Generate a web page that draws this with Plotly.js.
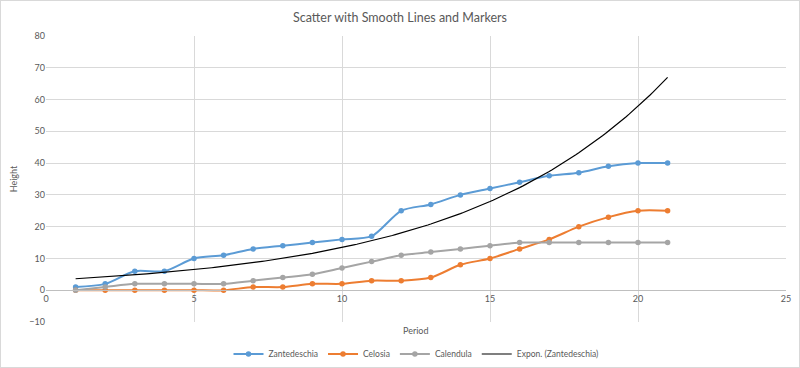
<!DOCTYPE html>
<html>
<head>
<meta charset="utf-8">
<script src="https://cdn.plot.ly/plotly-3.0.1.min.js"></script>
<style>
html,body{margin:0;padding:0;background:#fff;}
#wrap{position:relative;width:800px;height:368px;}
#chart{width:800px;height:368px;}
#frame{position:absolute;left:0;top:0;width:798px;height:366px;border:1px solid #d9d9d9;pointer-events:none;}
</style>
</head>
<body>
<div id="wrap"><div id="chart"></div><div id="frame"></div></div>
<script>
const periods = [1,2,3,4,5,6,7,8,9,10,11,12,13,14,15,16,17,18,19,20,21];
const zantedeschia = [1,2,6,6,10,11,13,14,15,16,17,25,27,30,32,34,36,37,39,40,40];
const celosia = [0,0,0,0,0,0,1,1,2,2,3,3,4,8,10,13,16,20,23,25,25];
const calendula = [0,1,2,2,2,2,3,4,5,7,9,11,12,13,14,15,15,15,15,15,15];
const seriesNames = ['Zantedeschia','Celosia','Calendula','Expon. (Zantedeschia)'];
const seriesColors = ['#5B9BD5','#ED7D31','#A5A5A5','#000000'];

// Exponential trendline (least squares on ln y), as Excel computes it
function expFit(xs, ys){
  const n = xs.length;
  const ly = ys.map(v => Math.log(v));
  const mx = xs.reduce((a,b)=>a+b,0)/n;
  const my = ly.reduce((a,b)=>a+b,0)/n;
  let sxy=0, sxx=0;
  for(let i=0;i<n;i++){ sxy += (xs[i]-mx)*(ly[i]-my); sxx += (xs[i]-mx)*(xs[i]-mx); }
  const b = sxy/sxx;
  const a = Math.exp(my - b*mx);
  return {a, b};
}
const fit = expFit(periods, zantedeschia);
const trendX = [], trendY = [];
const x0 = periods[0], x1 = periods[periods.length-1];
for(let i=0;i<=200;i++){
  const x = x0 + (x1-x0)*i/200;
  trendX.push(x); trendY.push(fit.a*Math.exp(fit.b*x));
}

const font = 'Lato, "Open Sans", sans-serif';
const mk = (y, i) => ({
  x: periods, y: y, name: seriesNames[i], type: 'scatter', mode: 'lines+markers',
  line: {color: seriesColors[i], width: 2, shape: 'spline', smoothing: 0.8},
  marker: {color: seriesColors[i], size: 5.5}
});
const traces = [
  mk(zantedeschia,0), mk(celosia,1), mk(calendula,2),
  {x: trendX, y: trendY, name: seriesNames[3], type: 'scatter', mode: 'lines',
   line: {color: '#000', width: 1.2}}
];

const layout = {
  width: 800, height: 368,
  margin: {l: 46, r: 14, t: 36, b: 46},
  paper_bgcolor: '#fff', plot_bgcolor: '#fff',
  font: {family: font, size: 9, color: '#595959'},
  title: {text: 'Scatter with Smooth Lines and Markers', font: {family: font, size: 12.5, color: '#595959'},
          x: 0.5, xanchor: 'center', y: 0.953, yanchor: 'middle', yref: 'container'},
  xaxis: {range: [0,25], dtick: 5, tick0: 0, showgrid: true, gridcolor: '#d9d9d9', gridwidth: 1,
          zeroline: false, showline: true, linecolor: '#bfbfbf', linewidth: 1,
          anchor: 'free', position: 10/90, ticks: '', showticklabels: true,
          tickfont: {size: 9, color: '#595959'}},
  yaxis: {range: [-10,80], dtick: 10, tick0: 0, showgrid: true, gridcolor: '#d9d9d9', gridwidth: 1,
          zeroline: false, showline: false, ticks: '', tickfont: {size: 9, color: '#595959'},
          title: {text: 'Height', font: {size: 9, color: '#595959'}, standoff: 10}},
  showlegend: true,
  legend: {orientation: 'h', x: 0.5, xanchor: 'center', xref: 'paper', y: 0.038, yanchor: 'middle', yref: 'container',
           font: {size: 8.5, color: '#595959'}, itemwidth: 30, bgcolor: 'rgba(0,0,0,0)', tracegroupgap: 0},
  annotations: [{text: 'Period', xref: 'paper', yref: 'paper', x: 0.5, y: -0.028,
                 xanchor: 'center', yanchor: 'middle', showarrow: false,
                 font: {size: 9, color: '#595959'}}]
};
Plotly.newPlot('chart', traces, layout, {displayModeBar: false, staticPlot: true});
</script>
</body>
</html>
